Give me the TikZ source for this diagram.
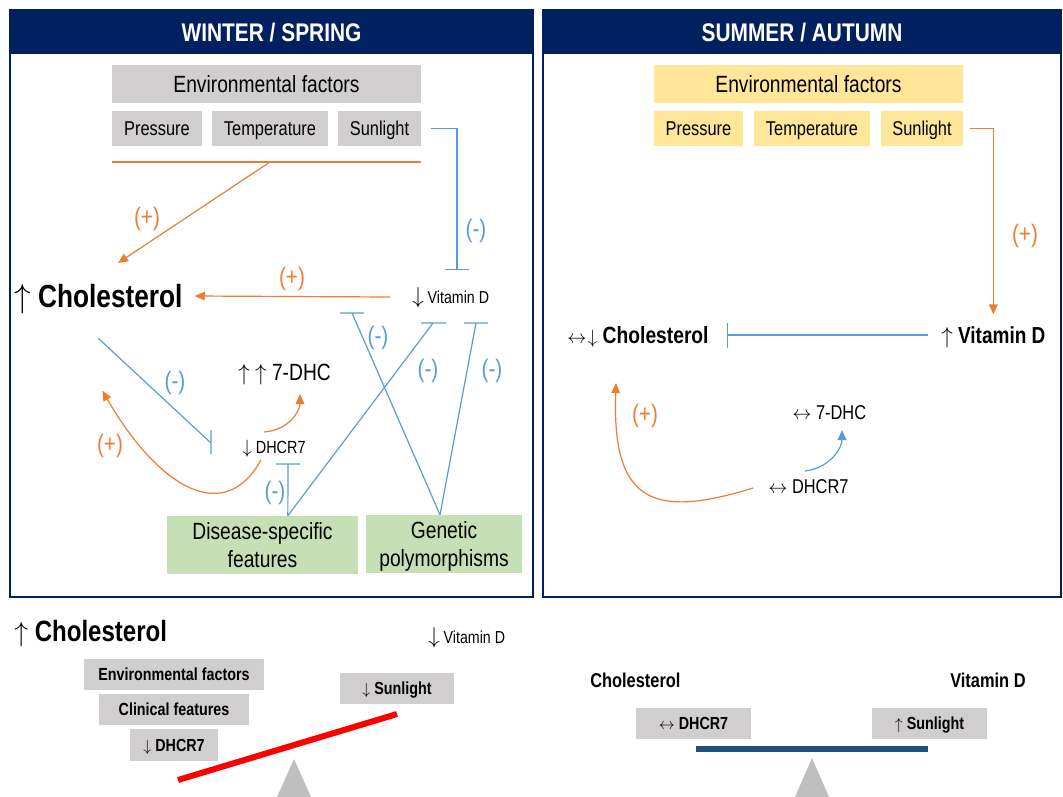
\documentclass[tikz,border=0pt]{standalone}
\usepackage{fontspec}
\setmainfont{Liberation Sans}[FakeStretch=0.82]
\usetikzlibrary{arrows.meta}
\definecolor{navy}{RGB}{0,32,96}
\definecolor{orng}{RGB}{237,125,49}
\definecolor{lblue}{RGB}{91,155,213}
\definecolor{gbox}{RGB}{208,206,206}
\definecolor{ybox}{RGB}{255,230,153}
\definecolor{grn}{RGB}{197,224,180}
\definecolor{dblue}{RGB}{31,78,121}
\definecolor{tri}{RGB}{191,191,191}
\newcommand\myup{$\uparrow$}
\newcommand\mydn{$\downarrow$}
\newcommand\mylr{$\leftrightarrow$}
\begin{document}
\begin{tikzpicture}[x=0.75pt,y=-0.75pt,
  fs/.style={font=\fontsize{#1}{#1}\selectfont, text height=0.716*#1pt, text depth=0pt, inner sep=0pt},
  orl/.style={draw=orng, line width=0.9pt},
  bll/.style={draw=lblue, line width=0.9pt},
  oarr/.style={-{Triangle[length=7.5pt,width=6.5pt]}},
  tbar/.style={-{Bar[width=18.5pt]}},
  lp/.style={fs=19, text=orng},
  lm/.style={fs=19, text=lblue},
  gb/.style={fill=gbox},
  yb/.style={fill=ybox},
  gr/.style={fill=grn, inner sep=0pt, text depth=0pt, align=center, font=\fontsize{17.6}{21}\selectfont}
]
\useasboundingbox (0,0) rectangle (1063,796);

% ---------- panels ----------
\fill[navy] (10,10) rectangle (533,54);
\draw[navy, line width=1.5pt] (10,10) rectangle (533,597);
\fill[navy] (543,10) rectangle (1061,54);
\draw[navy, line width=1.5pt] (543,10) rectangle (1061,597);
\node[fs=19.1, text=white] (tws) at (271.5,32) {\bfseries WINTER / SPRING};
\node[fs=19.1, text=white] (tsa) at (802,32) {\bfseries SUMMER / AUTUMN};

% ---------- left panel ----------
\node[fs=17.6, gb, minimum width=231.75pt, minimum height=28.5pt] (envL) at (266.5,84) {Environmental factors};
\node[fs=15, gb, minimum width=67.5pt, minimum height=26.25pt] (presL) at (157,128.5) {Pressure};
\node[fs=15, gb, minimum width=87pt, minimum height=26.25pt] (tempL) at (270,128.5) {Temperature};
\node[fs=15, gb, minimum width=62.25pt, minimum height=26.25pt] (sunL) at (379.5,128.5) {Sunlight};

\coordinate (obL) at (112,162);
\coordinate (obR) at (421,162);
\coordinate (obM) at (270,162);
\coordinate (chTip) at (118,263);
\coordinate (vdBar) at (457,270);

\node[fs=24, anchor=west] (cholL) at (14,296) {\myup\ \bfseries Cholesterol};
\node[fs=13, anchor=west] (vitDL) at (412,297) {{\fontsize{17}{17}\selectfont\mydn}\ Vitamin D};
\node[fs=17.6, anchor=west] (dhcL) at (238,372) {\myup\ \myup\ 7-DHC};
\node[fs=13.2, anchor=west] (dhcrL) at (242,447) {{\fontsize{15}{15}\selectfont\mydn}\ DHCR7};

\node[gr, minimum width=143.25pt, minimum height=43.5pt] (disB) at (262.5,545) {Disease-specific\\features};
\node[gr, minimum width=117pt, minimum height=43.5pt] (genB) at (444,544) {Genetic\\polymorphisms};

\draw[orl] (obL) -- (obR);
\draw[orl, oarr] (obM) -- (chTip);
\draw[bll, tbar] ([xshift=7.5pt]sunL.east) -| (vdBar);
\draw[orl, oarr] ([xshift=-16.5pt]vitDL.west) -- ([xshift=9pt]cholL.east);

% T connectors
\coordinate (ta) at (352,313);
\coordinate (tb) at (476,323);
\coordinate (tc) at (433,323);
\coordinate (td) at (288,464);
\coordinate (te) at (211,443);
\draw[bll] ([xshift=-3pt]genB.north) -- (ta) ++(-12,0) -- ++(24,0);
\draw[bll] ([xshift=-3pt]genB.north) -- (tb) ++(-12,0) -- ++(24,0);
\draw[bll] ([xshift=19pt]disB.north) -- (tc) ++(-12,0) -- ++(25,0);
\draw[bll] ([xshift=19pt]disB.north) -- (td) ++(-12,0) -- ++(24,0);
\draw[bll] ([yshift=-23pt]cholL.south) -- (te) ++(0,-13) -- ++(0,24);

% curves
\draw[orl, oarr] ([shift={(22,-15)}]dhcrL.west) .. controls +(26,-2) and +(0,16) .. ([shift={(62,22)}]dhcL.west);
\draw[orl, oarr] ([shift={(19,13)}]dhcrL.west) .. controls (225,525) and (160,490) .. ([shift={(4,83)}]cholL.south);

% labels
\node[lp] (p1) at (147,216) {(+)};
\node[lp] (p2) at (292,276) {(+)};
\node[lp] (p3) at (110,443) {(+)};
\node[lm] (m1) at (476,228) {(-)};
\node[lm] (m2) at (175,380) {(-)};
\node[lm] (m3) at (378,335) {(-)};
\node[lm] (m4) at (428,368) {(-)};
\node[lm] (m5) at (492,368) {(-)};
\node[lm] (m6) at (275,490) {(-)};

% ---------- right panel ----------
\node[fs=17.6, yb, minimum width=231.75pt, minimum height=28.5pt] (envR) at (808.5,84) {Environmental factors};
\node[fs=15, yb, minimum width=66.75pt, minimum height=26.25pt] (presR) at (698.5,128.5) {Pressure};
\node[fs=15, yb, minimum width=87pt, minimum height=26.25pt] (tempR) at (812,128.5) {Temperature};
\node[fs=15, yb, minimum width=61.5pt, minimum height=26.25pt] (sunR) at (922,128.5) {Sunlight};

\node[fs=17.4, anchor=west] (vitR) at (941,335) {\myup\ \bfseries Vitamin D};
\node[fs=17.6, anchor=west] (cholR) at (567,335) {{\fontsize{15.5}{15.5}\selectfont\mylr\hspace{1pt}\mydn}\hspace{4pt}\bfseries Cholesterol};
\node[fs=15, anchor=west] (dhcR) at (792,412) {{\fontsize{14}{14}\selectfont\mylr}\ 7-DHC};
\node[fs=15, anchor=west] (dhcrR) at (768,486) {{\fontsize{14}{14}\selectfont\mylr}\ DHCR7};

\draw[orl, oarr] ([xshift=5.25pt]sunR.east) -| ([yshift=9pt]vitR.north);
\draw[bll, -{Bar[width=18.75pt]}] ([xshift=-10pt]vitR.west) -- ([xshift=13.5pt]cholR.east);
\draw[bll, -{Triangle[length=7.5pt,width=6.5pt]}] ([shift={(37,-15)}]dhcrR.west) .. controls +(25,-3) and +(0,18) .. ([shift={(50,18)}]dhcR.west);
\draw[orl, oarr] ([shift={(-15,2)}]dhcrR.west) .. controls (650,520) and (612,500) .. ([shift={(49,48)}]cholR.west);

\node[lp] (p4) at (1025,233) {(+)};
\node[lp] (p5) at (645,413) {(+)};

% ---------- bottom left balance ----------
\node[fs=22, anchor=west] (cholB) at (14,630.5) {\myup\ \bfseries Cholesterol};
\node[fs=13, anchor=west] (vitB) at (428,637) {{\fontsize{17}{17}\selectfont\mydn}\ Vitamin D};
\node[fs=13.1, gb, minimum width=135pt, minimum height=23.25pt] (envB) at (174,674.5) {\bfseries Environmental factors};
\node[fs=13.1, gb, minimum width=112.5pt, minimum height=23.25pt] (clinB) at (174,709.5) {\bfseries Clinical features};
\node[fs=13.1, gb, minimum width=66pt, minimum height=24pt] (dhcrB) at (174,745) {\mydn\ \bfseries DHCR7};
\node[fs=13.1, gb, minimum width=85.5pt, minimum height=23.25pt] (sunB) at (397,688.5) {\mydn\ \bfseries Sunlight};
\draw[red, line width=4.5pt] (178,780) -- (397,714);
\fill[tri] (294,759) -- (311,797) -- (277,797) -- cycle;

% ---------- bottom right balance ----------
\node[fs=15, anchor=west] (cholBR) at (590,680) {\bfseries Cholesterol};
\node[fs=15, anchor=west] (vitBR) at (950,680) {\bfseries Vitamin D};
\node[fs=13.1, gb, minimum width=86.25pt, minimum height=23.25pt] (dhcrBR) at (693.5,723.5) {{\fontsize{12.5}{12.5}\selectfont\mylr}\ \bfseries DHCR7};
\node[fs=13.1, gb, minimum width=86.25pt, minimum height=23.25pt] (sunBR) at (929.5,723.5) {\myup\ \bfseries Sunlight};
\draw[dblue, line width=4.5pt] (696,749) -- (928,749);
\fill[tri] (812,758) -- (829,797) -- (795,797) -- cycle;
\end{tikzpicture}
\end{document}
